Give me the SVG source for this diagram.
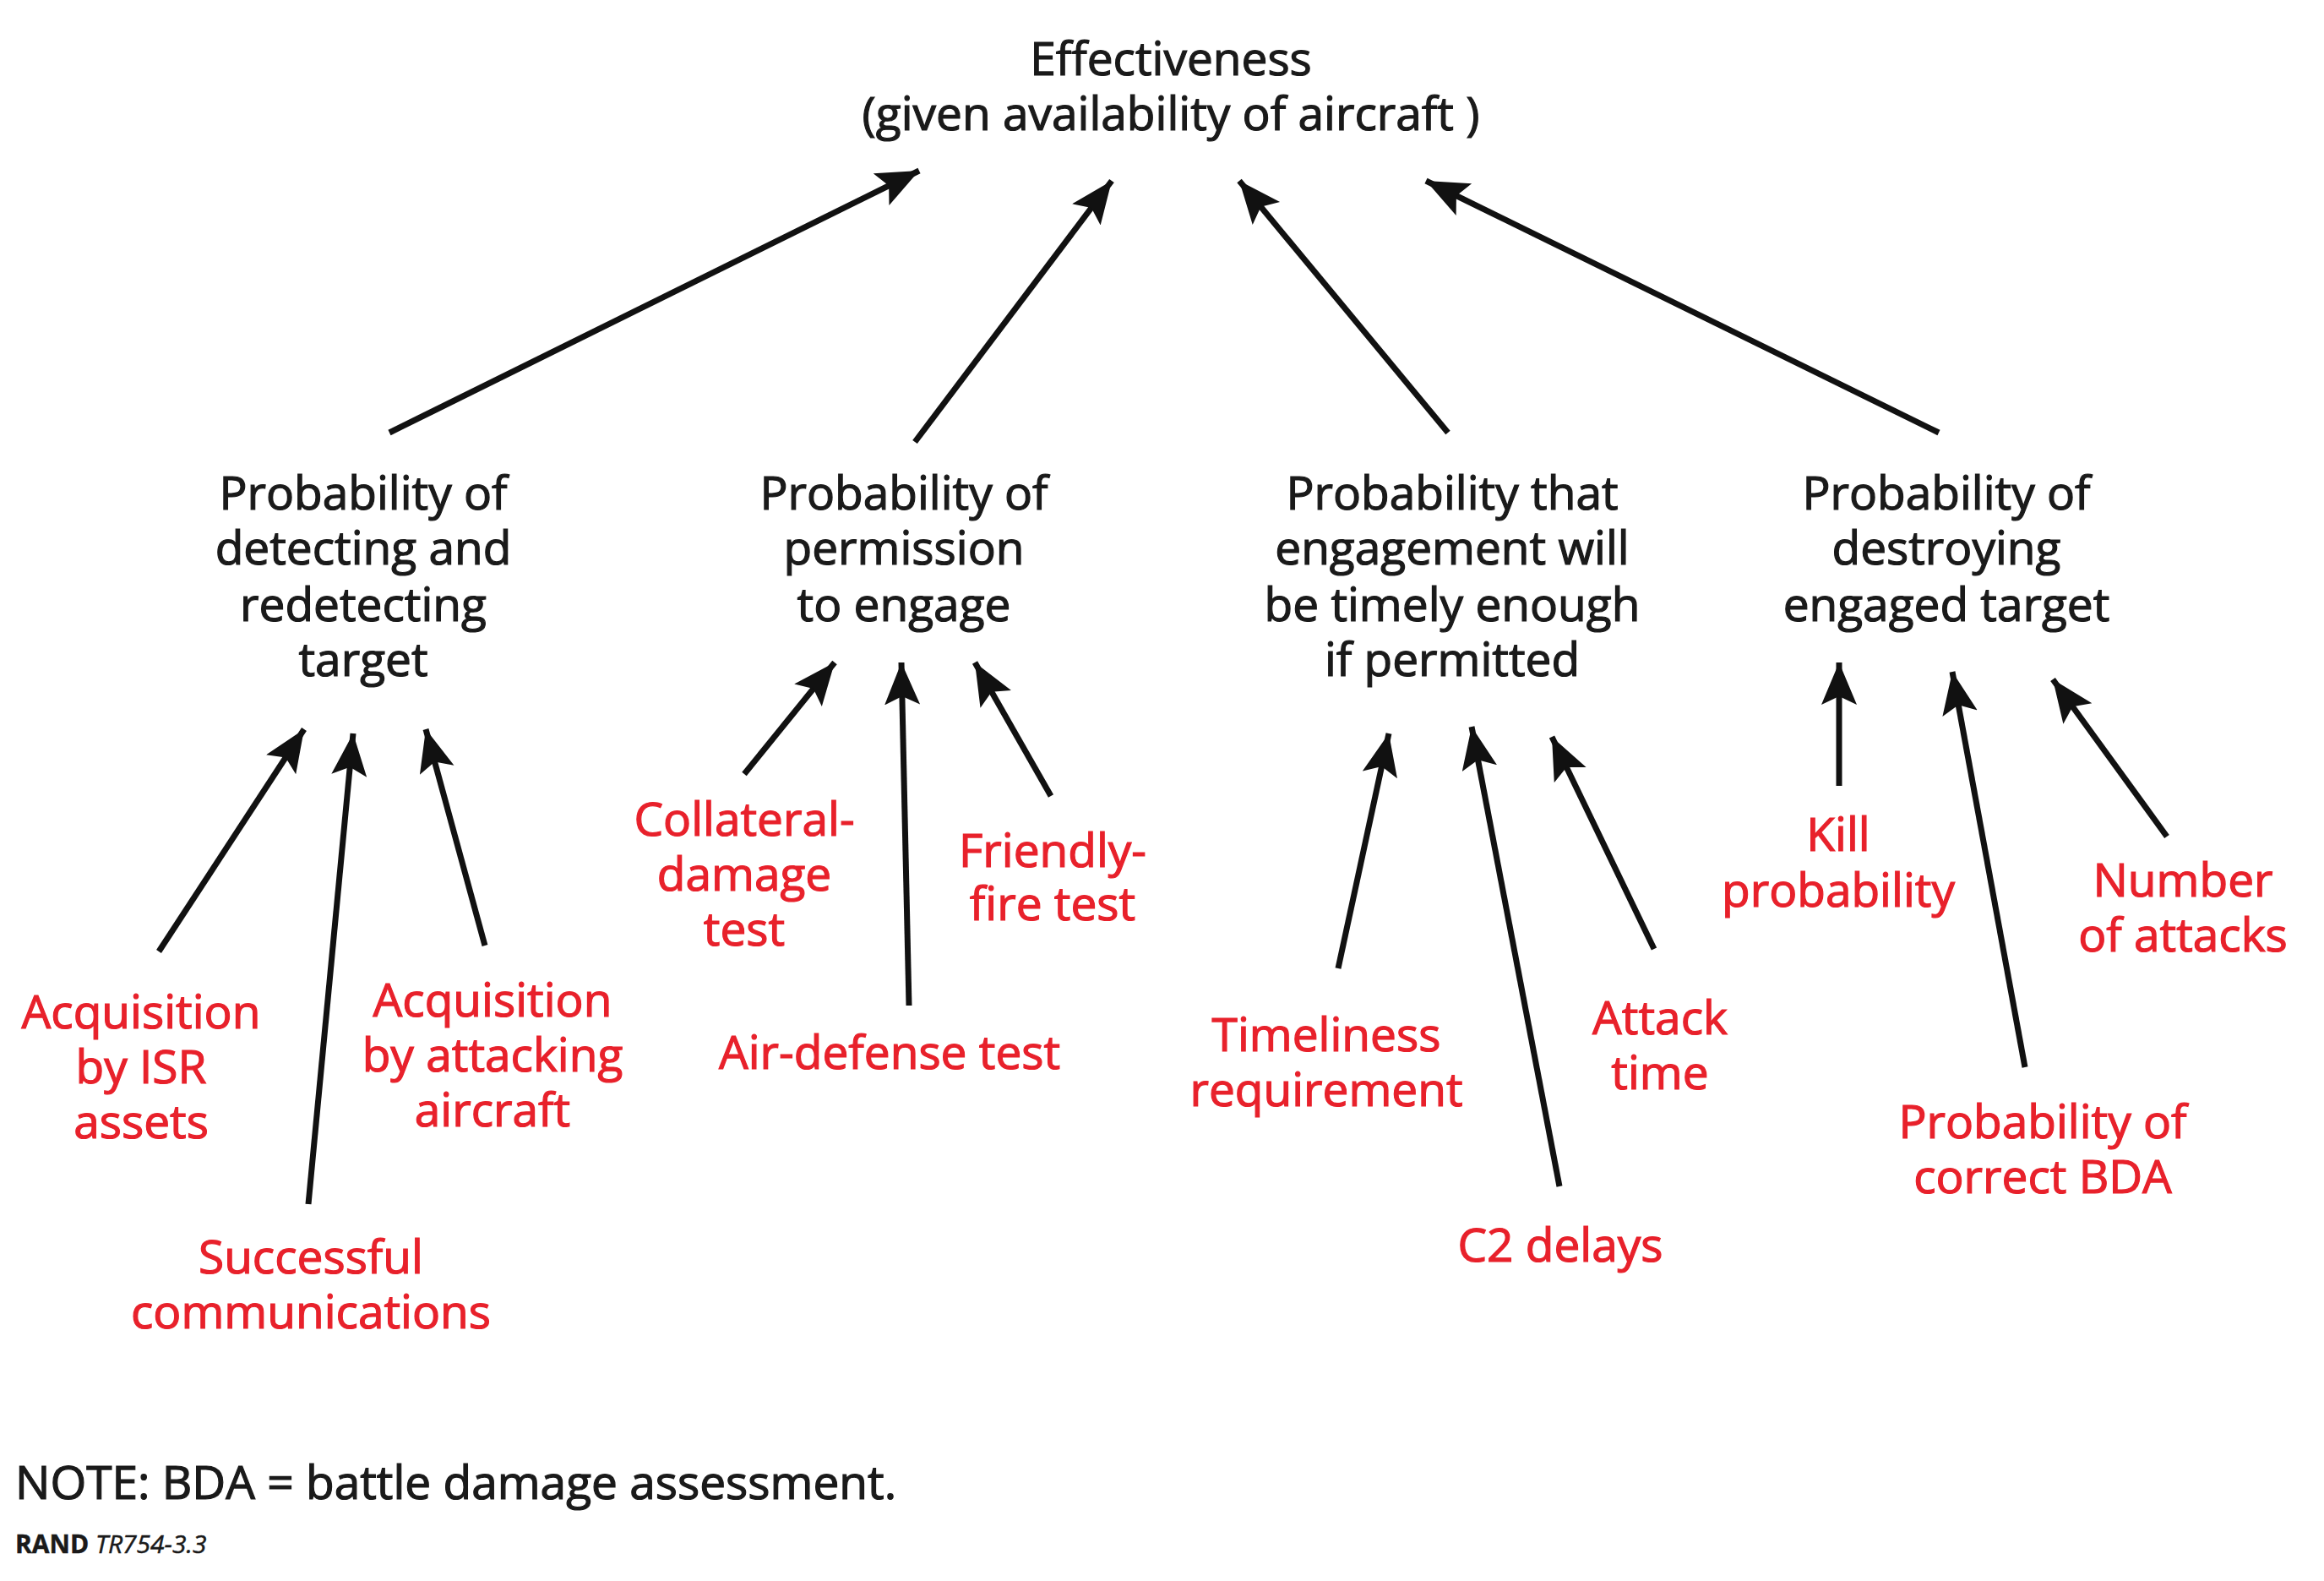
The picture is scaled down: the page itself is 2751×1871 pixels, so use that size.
<svg xmlns="http://www.w3.org/2000/svg" width="2751" height="1871" viewBox="0 0 2751 1871">
<style>
text{font-family:"Open Sans","Noto Sans","Liberation Sans",sans-serif;font-size:55px;text-anchor:middle;stroke-width:1.2}
.b{fill:#1a1a1a;stroke:#1a1a1a}
.r{fill:#e8212b;stroke:#e8212b}
.c line{stroke:#111;stroke-width:7;marker-end:url(#ah)}
</style>
<defs>
<marker id="ah" markerUnits="userSpaceOnUse" markerWidth="60" markerHeight="50" refX="50" refY="21" orient="auto">
<polygon points="0,0 50,21 0,42 10,21" fill="#111"/>
</marker>
</defs>
<rect width="2751" height="1871" fill="#fff"/>
<g id="effectiveness" class="b"><text x="1386" y="89">Effectiveness</text><text x="1386" y="154">(given availability of aircraft )</text></g>
<g id="detect" class="b"><text x="430" y="603">Probability of</text><text x="430" y="668">detecting and</text><text x="430" y="735">redetecting</text><text x="430" y="800">target</text></g>
<g id="permission" class="b"><text x="1070" y="603">Probability of</text><text x="1070" y="668">permission</text><text x="1070" y="735">to engage</text></g>
<g id="timely" class="b"><text x="1719" y="603">Probability that</text><text x="1719" y="668">engagement will</text><text x="1719" y="735">be timely enough</text><text x="1719" y="800">if permitted</text></g>
<g id="destroy" class="b"><text x="2304" y="603">Probability of</text><text x="2304" y="668">destroying</text><text x="2304" y="735">engaged target</text></g>
<g id="isr" class="r"><text x="167" y="1217">Acquisition</text><text x="167" y="1282">by ISR</text><text x="167" y="1347">assets</text></g>
<g id="comms" class="r"><text x="368" y="1507">Successful</text><text x="368" y="1572">communications</text></g>
<g id="attacking" class="r"><text x="583" y="1203">Acquisition</text><text x="583" y="1268">by attacking</text><text x="583" y="1333">aircraft</text></g>
<g id="collateral" class="r"><text x="881" y="989">Collateral-</text><text x="881" y="1054">damage</text><text x="881" y="1119">test</text></g>
<g id="airdefense" class="r"><text x="1053" y="1265">Air-defense test</text></g>
<g id="friendly" class="r"><text x="1246" y="1026">Friendly-</text><text x="1246" y="1089">fire test</text></g>
<g id="timeliness" class="r"><text x="1570" y="1244">Timeliness</text><text x="1570" y="1309">requirement</text></g>
<g id="c2" class="r"><text x="1847" y="1493">C2 delays</text></g>
<g id="attacktime" class="r"><text x="1965" y="1224">Attack</text><text x="1965" y="1289">time</text></g>
<g id="kill" class="r"><text x="2176" y="1007">Kill</text><text x="2176" y="1073">probability</text></g>
<g id="bda" class="r"><text x="2418" y="1347">Probability of</text><text x="2418" y="1412">correct  BDA</text></g>
<g id="attacks" class="r"><text x="2584" y="1061">Number</text><text x="2584" y="1126">of attacks</text></g>
<g id="connectors" class="c">
<line x1="461" y1="512" x2="1088" y2="202"/>
<line x1="1083" y1="523" x2="1316" y2="214"/>
<line x1="1714" y1="512" x2="1467" y2="214"/>
<line x1="2295" y1="512" x2="1688" y2="214"/>
<line x1="188" y1="1126" x2="360" y2="863"/>
<line x1="365" y1="1425" x2="418" y2="868"/>
<line x1="574" y1="1119" x2="504" y2="863"/>
<line x1="881" y1="916" x2="988" y2="784"/>
<line x1="1076" y1="1190" x2="1067" y2="784"/>
<line x1="1244" y1="942" x2="1154" y2="784"/>
<line x1="1584" y1="1146" x2="1644" y2="868"/>
<line x1="1846" y1="1404" x2="1742" y2="860"/>
<line x1="1958" y1="1123" x2="1837" y2="872"/>
<line x1="2177" y1="930" x2="2177" y2="784"/>
<line x1="2397" y1="1263" x2="2311" y2="795"/>
<line x1="2565" y1="990" x2="2430" y2="804"/>
</g>
<g id="note"><text x="18" y="1774" style="text-anchor:start" class="b">NOTE: BDA = battle damage assessment.</text>
<text x="18" y="1838" style="text-anchor:start;font-size:30px;stroke-width:0.5" class="b"><tspan font-weight="bold">RAND</tspan> <tspan font-style="italic">TR754-3.3</tspan></text></g>
</svg>
